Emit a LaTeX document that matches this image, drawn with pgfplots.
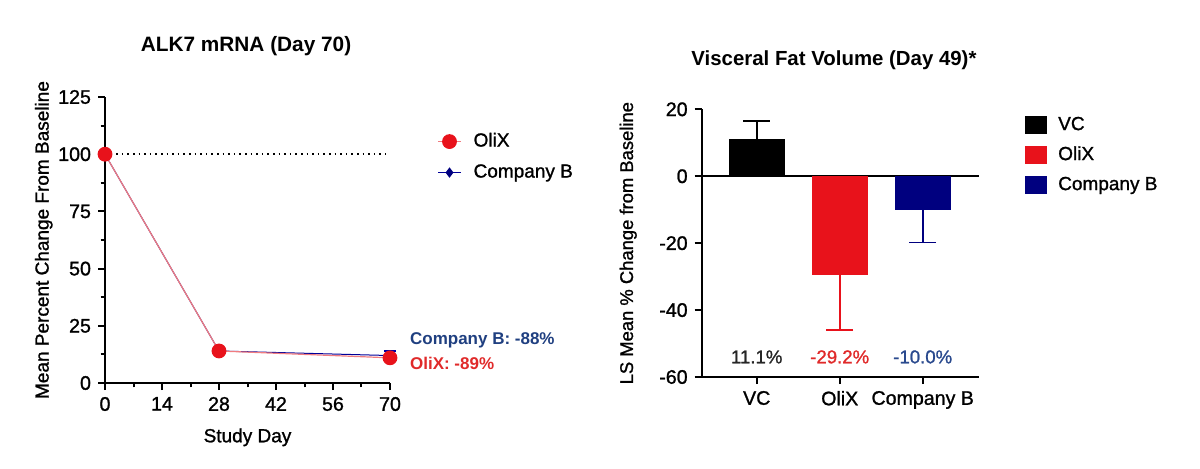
\documentclass[border=0pt]{standalone}
\usepackage{fontspec}
\setmainfont{Liberation Sans}[UprightFeatures={FakeBold=1.2}]
\usepackage{pgfplots}
\pgfplotsset{compat=1.18}
\definecolor{olixred}{HTML}{E8121B}
\definecolor{olixline}{HTML}{F07C80}
\definecolor{navyb}{HTML}{00007F}
\definecolor{annblue}{HTML}{1F3F80}
\definecolor{annred}{HTML}{E02A2A}
\definecolor{pctblue}{HTML}{2A4A8E}
\begin{document}
\begin{tikzpicture}[x=1pt,y=1pt]
\useasboundingbox (0,0) rectangle (600,234);
% ---------------- Left: ALK7 mRNA ----------------
\begin{axis}[
  at={(52.5pt,42.5pt)}, anchor=south west,
  scale only axis, width=142.5pt, height=143pt,
  xmin=0, xmax=70, ymin=0, ymax=125,
  clip=false,
  axis lines*=left,
  axis line style={line width=1.2pt, black},
  tick align=outside,
  major tick length=3.5pt, minor tick length=2.2pt,
  tick style={line width=1pt, black},
  xtick={0,14,28,42,56,70}, minor x tick num=1,
  ytick={0,25,50,75,100,125}, minor y tick num=1,
  /pgf/number format/assume math mode=true,
  ticklabel style={font=\fontsize{9.8}{11}\selectfont},
  xlabel={Study Day},
  ylabel={Mean Percent Change From Baseline},
  label style={font=\fontsize{9.5}{11}\selectfont},
  xlabel style={at={(axis description cs:0.5,-0.19)}, anchor=center},
  ylabel style={at={(axis description cs:-0.215,0.5)}, anchor=center},
  title={\bfseries ALK7 mRNA (Day 70)},
  title style={font=\fontsize{10.4}{12}\selectfont, at={(axis description cs:0.495,1.136)}, anchor=center},
  reverse legend,
  legend style={at={(axis description cs:1.165,0.79)}, anchor=west, draw=none, fill=none,
    inner sep=0pt, row sep=6.5pt, column sep=6pt, font=\fontsize{9.5}{11}\selectfont,
    nodes={inner sep=0pt, text height=7pt, text depth=2pt, anchor=west}},
  legend cell align=left,
  legend image code/.code={\draw[mark repeat=2,mark phase=2,#1] plot coordinates {(0pt,0pt)(5.75pt,0pt)(11.5pt,0pt)};},
]
\addplot[black, dotted, line width=0.8pt, forget plot] coordinates {(0,100)(69,100)};
\addplot[color=navyb!80!blue, line width=0.5pt, mark=diamond*, mark size=2.2pt,
  mark options={fill=navyb, draw=navyb},
  error bars/.cd, y dir=plus, y explicit,
  error bar style={line width=0.6pt, navyb!70!blue},
  error mark options={rotate=90, mark size=3pt, line width=0.6pt, navyb!70!blue}]
  coordinates {(0,100) (28,14) (70,12) +- (0,2)};
\addlegendentry{Company B}
\addplot[color=olixline, line width=0.6pt, mark=*, mark size=3.4pt,
  mark options={fill=olixred, draw=olixred}]
  coordinates {(0,100) (28,14) (70,11)};
\addlegendentry{OliX}
\node[anchor=west, text=annblue, font=\fontsize{8.5}{10}\selectfont\bfseries] at (axis cs:73.2,18.8) {Company B: -88\%};
\node[anchor=west, text=annred, font=\fontsize{8.5}{10}\selectfont\bfseries] at (axis cs:73.2,8.7) {OliX: -89\%};
\end{axis}
% ---------------- Right: Visceral fat ----------------
\begin{axis}[
  at={(350.85pt,45.5pt)}, anchor=south west,
  scale only axis, width=138.65pt, height=133.85pt,
  xmin=-0.663, xmax=2.678, ymin=-60, ymax=20,
  clip=false,
  axis lines*=left,
  axis line style={line width=1.2pt, black},
  tick align=outside,
  major tick length=3.5pt,
  tick style={line width=1pt, black},
  xtick={0,1,2}, xticklabels={VC,OliX,Company B},
  ytick={-60,-40,-20,0,20},
  /pgf/number format/assume math mode=true,
  ticklabel style={font=\fontsize{9.8}{11}\selectfont},
  ylabel={LS Mean \% Change from Baseline},
  label style={font=\fontsize{9.2}{11}\selectfont},
  ylabel style={at={(axis description cs:-0.265,0.5)}, anchor=center},
  title={\bfseries Visceral Fat Volume (Day 49)*},
  title style={font=\fontsize{10.2}{11}\selectfont, at={(axis description cs:0.477,1.139)}, anchor=center},
  legend style={at={(axis description cs:1.166,0.829)}, anchor=west, draw=none, fill=none,
    inner sep=0pt, row sep=6pt, column sep=5.5pt, font=\fontsize{9.5}{11}\selectfont,
    nodes={inner sep=0pt, text height=7pt, text depth=2pt, anchor=west}},
  legend cell align=left,
]
\addplot[black, line width=1pt, forget plot] coordinates {(-0.663,0)(2.678,0)};
\addplot[ybar, bar width=0.66, bar shift=0pt, fill=black, draw=black, line width=0.4pt,
  legend image code/.code={\fill[black] (0pt,-4.25pt) rectangle (10.5pt,4.25pt);},
  error bars/.cd, y dir=plus, y explicit,
  error bar style={line width=0.9pt, black},
  error mark options={rotate=90, mark size=6.75pt, line width=0.9pt, black}]
  coordinates {(0,11.1) +- (0,5.5)};
\addlegendentry{VC}
\addplot[ybar, bar width=0.66, bar shift=0pt, fill=olixred, draw=olixred, line width=0.4pt,
  legend image code/.code={\fill[olixred] (0pt,-4.25pt) rectangle (10.5pt,4.25pt);},
  error bars/.cd, y dir=minus, y explicit,
  error bar style={line width=0.9pt, olixred},
  error mark options={rotate=90, mark size=6.75pt, line width=0.9pt, olixred}]
  coordinates {(1,-29.2) +- (0,16.7)};
\addlegendentry{OliX}
\addplot[ybar, bar width=0.66, bar shift=0pt, fill=navyb, draw=navyb, line width=0.4pt,
  legend image code/.code={\fill[navyb] (0pt,-4.25pt) rectangle (10.5pt,4.25pt);},
  error bars/.cd, y dir=minus, y explicit,
  error bar style={line width=0.9pt, navyb},
  error mark options={rotate=90, mark size=6.75pt, line width=0.9pt, navyb}]
  coordinates {(2,-10.0) +- (0,9.8)};
\addlegendentry{Company B}
\node[text=black!85, font=\fontsize{9.3}{11}\selectfont] at (axis cs:0,-54) {11.1\%};
\node[text=annred, font=\fontsize{9.3}{11}\selectfont] at (axis cs:1,-54) {-29.2\%};
\node[text=pctblue, font=\fontsize{9.3}{11}\selectfont] at (axis cs:2,-54) {-10.0\%};
\end{axis}
\end{tikzpicture}
\end{document}
